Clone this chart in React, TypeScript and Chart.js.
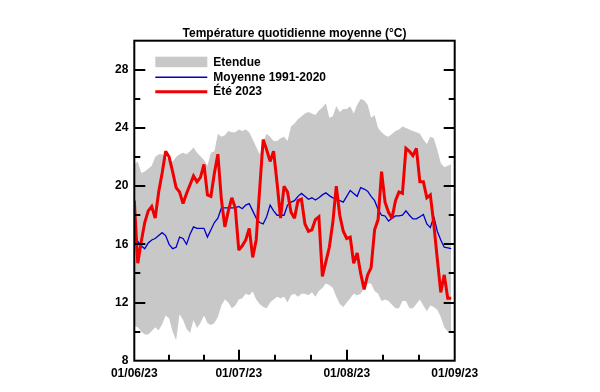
import React, { useEffect, useRef } from "react";
import { Chart, registerables } from "chart.js";

Chart.register(...registerables);

// Day offsets from 01/06/23 (index = day)
const etendueMax = [
  21.5, 21.7, 20.9, 21.0, 21.2, 21.4, 22.0, 22.2, 22.2, 22.0,
  21.8, 21.7, 22.0, 22.2, 22.3, 22.2, 22.4, 22.65, 22.3, 22.05,
  21.8, 21.4, 22.3, 22.4, 23.6, 23.4, 23.5, 23.8, 23.7, 23.7,
  23.9, 23.8, 23.9, 23.7, 23.2, 22.7, 22.2, 23.0, 23.6, 23.4,
  23.1, 23.1, 23.3, 23.4, 23.1, 24.1, 24.3, 24.6, 24.8, 25.0,
  25.1, 25.0, 24.9, 25.2, 25.4, 25.7, 24.7, 24.8, 25.5, 25.1,
  25.3, 25.3, 25.5, 25.0, 25.6, 26.0, 25.9, 25.6, 24.7, 24.9,
  24.0, 23.7, 23.5, 23.4, 23.6, 23.8, 23.9, 24.1, 24.0, 23.9,
  23.8, 23.7, 23.6, 23.2, 22.9, 23.4, 23.3, 22.5, 21.6, 21.3,
  21.4, 21.5,
];
const etendueMin = [
  10.4, 10.3, 10.0, 9.8, 9.8, 10.05, 10.3, 10.1, 10.5, 11.1,
  10.9, 10.0, 9.4, 11.2, 10.8, 10.2, 9.9, 10.8, 10.25, 10.6,
  11.1, 10.6, 10.45, 10.6, 11.0, 11.8, 12.2, 12.0, 11.6, 11.8,
  12.2, 12.3, 12.6, 12.5, 12.75, 12.2, 11.9, 11.7, 11.6, 12.0,
  12.2, 12.4, 12.3, 12.4, 12.0, 12.5, 12.6, 12.4, 12.6, 12.6,
  12.5, 12.7, 12.4, 12.8, 13.0, 13.3, 13.2, 13.0, 12.4, 11.9,
  11.7, 12.0, 12.3, 12.6, 12.5, 12.6, 13.0, 13.3, 13.3, 12.8,
  12.6, 12.1, 12.2, 12.1, 11.85, 11.6, 11.6, 12.1, 12.1, 11.6,
  11.6, 11.9, 12.2, 11.8, 11.4, 11.8, 11.7, 11.5, 11.0, 10.3,
  10.0, 9.9,
];
const moyenne = [
  16.7, 16.2, 15.9, 15.7, 16.1, 16.3, 16.4, 16.6, 16.8, 16.6,
  16.0, 15.7, 15.8, 16.5, 16.4, 16.0, 16.7, 17.2, 17.1, 17.1,
  17.1, 16.5, 17.0, 17.5, 17.8, 18.5, 18.5, 18.5, 18.5, 18.5,
  18.6, 18.45, 18.7, 18.8, 18.3, 17.8, 17.5, 17.4, 17.9, 18.7,
  18.3, 18.0, 18.0, 18.0, 18.7, 18.9, 19.0, 19.3, 19.5, 19.3,
  19.1, 19.2, 19.05, 19.2, 19.4, 19.55, 19.35, 19.2, 19.15, 19.0,
  18.9, 19.3, 19.7, 19.5, 19.3, 19.9, 19.8, 19.65, 19.3, 19.0,
  18.4, 18.0, 17.95, 17.6, 17.8, 17.95, 17.95, 18.0, 18.3, 18.0,
  17.75, 17.75, 17.9, 18.05, 17.4, 17.15, 17.9, 16.9, 16.3, 15.8,
  15.75, 15.7,
];
const ete2023 = [
  19.0, 14.7, 16.2, 17.5, 18.3, 18.6, 17.8, 19.6, 20.9, 22.4,
  22.0, 21.0, 19.9, 19.6, 18.8, 19.5, 20.1, 20.7, 20.3, 20.6,
  21.5, 19.4, 19.3, 20.9, 22.2, 19.1, 17.2, 18.3, 19.2, 18.5,
  15.6, 15.9, 16.3, 17.1, 15.1, 16.3, 19.8, 23.2, 22.5, 21.7,
  22.4, 20.2, 17.8, 20.0, 19.6, 18.2, 17.8, 19.0, 19.1, 17.4,
  16.9, 17.0, 17.7, 17.9, 13.8, 14.8, 15.8, 17.5, 20.0, 18.0,
  16.9, 16.4, 16.5, 14.7, 15.4, 14.0, 12.9, 13.9, 14.4, 17.0,
  17.7, 21.0, 18.9, 18.2, 17.8, 19.0, 19.6, 19.5, 22.6, 22.4,
  22.1, 22.6, 20.3, 20.3, 19.2, 19.4, 17.4, 15.0, 12.7, 13.9,
  12.3, 12.3,
];

const xTickDays = [0, 30, 61, 92];
const xTickLabels = ["01/06/23", "01/07/23", "01/08/23", "01/09/23"];
const yMin = 8;
const yMax = 30;
const yMajorStep = 4;
const yMinorStep = 2;

const seriesNames = ["Etendue", "Moyenne 1991-2020", "Été 2023"];
const titleText = "Température quotidienne moyenne (°C)";

const FONT = "'Liberation Sans', Arial, sans-serif";
const GRAY = "rgb(200,200,200)";
const BLUE = "#0000cc";
const RED = "#f00000";

const toXY = (arr: number[]) => arr.map((v, i) => ({ x: i, y: v }));

export default function App() {
  const ref = useRef<HTMLCanvasElement | null>(null);

  useEffect(() => {
    if (!ref.current) return;

    const xTicks: number[] = [];
    for (let i = 0; i < xTickDays.length - 1; i++) {
      const a = xTickDays[i];
      const b = xTickDays[i + 1];
      xTicks.push(a, a + (b - a) / 3, a + (2 * (b - a)) / 3);
    }
    xTicks.push(xTickDays[xTickDays.length - 1]);
    const yTicks: number[] = [];
    for (let v = yMin; v <= yMax; v += yMinorStep) yTicks.push(v);

    const framePlugin = {
      id: "framePlugin",
      beforeDatasetsDraw(chart: any) {
        chart.ctx.miterLimit = 2.5;
      },
      afterDatasetsDraw(chart: any) {
        const { ctx, chartArea } = chart;
        const { left, right, top, bottom } = chartArea;
        const xs = chart.scales.x;
        const ys = chart.scales.y;
        ctx.save();
        ctx.miterLimit = 10;
        ctx.strokeStyle = "#000";
        ctx.lineWidth = 2;
        ctx.beginPath();
        yTicks.forEach((v) => {
          if (v === yMin || v === yMax) return;
          const y = Math.round(ys.getPixelForValue(v));
          const len = v % yMajorStep === 0 ? 11 : 6;
          ctx.moveTo(left, y);
          ctx.lineTo(left + len, y);
          ctx.moveTo(right, y);
          ctx.lineTo(right - len, y);
        });
        xTicks.forEach((v) => {
          if (v === xTickDays[0] || v === xTickDays[xTickDays.length - 1]) return;
          const x = Math.round(xs.getPixelForValue(v));
          const len = xTickDays.includes(v) ? 11 : 6;
          ctx.moveTo(x, bottom);
          ctx.lineTo(x, bottom - len);
        });
        ctx.stroke();
        ctx.strokeRect(left, top, right - left, bottom - top);

        // legend
        const lx = left + 21;
        const lw = 52;
        const tx = left + 79;
        ctx.fillStyle = GRAY;
        ctx.fillRect(lx, top + 16, lw, 10.5);
        ctx.lineWidth = 1.5;
        ctx.strokeStyle = BLUE;
        ctx.beginPath();
        ctx.moveTo(lx, top + 36.6);
        ctx.lineTo(lx + lw, top + 36.6);
        ctx.stroke();
        ctx.lineWidth = 3;
        ctx.strokeStyle = RED;
        ctx.beginPath();
        ctx.moveTo(lx, top + 51);
        ctx.lineTo(lx + lw, top + 51);
        ctx.stroke();
        ctx.fillStyle = "#000";
        ctx.font = `bold 12px ${FONT}`;
        ctx.textBaseline = "middle";
        ctx.textAlign = "left";
        ctx.fillText(seriesNames[0], tx, top + 21.5);
        ctx.fillText(seriesNames[1], tx, top + 36.8);
        ctx.fillText(seriesNames[2], tx, top + 51);
        ctx.restore();
      },
    };

    const chart = new Chart(ref.current, {
      type: "line",
      data: {
        datasets: [
          {
            label: seriesNames[2],
            data: toXY(ete2023),
            borderColor: RED,
            borderWidth: 3,
            pointRadius: 0,
            tension: 0,
            fill: false,
            order: 0,
          },
          {
            label: seriesNames[1],
            data: toXY(moyenne),
            borderColor: BLUE,
            borderWidth: 1.3,
            pointRadius: 0,
            tension: 0,
            fill: false,
            order: 1,
          },
          {
            label: seriesNames[0],
            data: toXY(etendueMax),
            borderColor: GRAY,
            borderWidth: 0,
            backgroundColor: GRAY,
            pointRadius: 0,
            tension: 0,
            fill: "+1",
            order: 2,
          },
          {
            label: seriesNames[0] + " min",
            data: toXY(etendueMin),
            borderColor: GRAY,
            borderWidth: 0,
            pointRadius: 0,
            tension: 0,
            fill: false,
            order: 3,
          },
        ],
      },
      options: {
        responsive: false,
        animation: false,
        devicePixelRatio: 1,
        layout: { padding: { left: 0, right: 145.3, top: 0.3, bottom: 0 } },
        plugins: {
          legend: { display: false },
          tooltip: { enabled: false },
          title: {
            display: true,
            text: titleText,
            fullSize: false,
            color: "#000",
            font: { family: FONT, size: 12, weight: "bold", lineHeight: 1.2 },
            padding: { top: 26, bottom: 0 },
          },
        },
        scales: {
          x: {
            type: "linear",
            min: xTickDays[0],
            max: xTickDays[xTickDays.length - 1],
            afterBuildTicks: (s: any) => {
              s.ticks = xTicks.map((v) => ({ value: v }));
            },
            afterFit: (s: any) => {
              s.height = 31.3;
            },
            grid: { display: false, drawTicks: false },
            border: { display: false },
            ticks: {
              autoSkip: false,
              maxRotation: 0,
              minRotation: 0,
              padding: 6,
              color: "#000",
              font: { family: FONT, size: 12, weight: "bold" },
              callback: (v: any) => {
                const i = xTickDays.indexOf(Number(v));
                return i >= 0 ? xTickLabels[i] : "";
              },
            },
          },
          y: {
            type: "linear",
            min: yMin,
            max: yMax,
            afterBuildTicks: (s: any) => {
              s.ticks = yTicks.map((v) => ({ value: v }));
            },
            afterFit: (s: any) => {
              s.width = 134.3;
            },
            grid: { display: false, drawTicks: false },
            border: { display: false },
            ticks: {
              autoSkip: false,
              padding: 6,
              color: "#000",
              font: { family: FONT, size: 12, weight: "bold" },
              callback: (v: any) => {
                const n = Number(v);
                return n % yMajorStep === 0 && n < yMax ? String(n) : "";
              },
            },
          },
        },
      },
      plugins: [framePlugin],
    } as any);

    return () => chart.destroy();
  }, []);

  return (
    <div style={{ position: "absolute", left: 0, top: 0, width: 600, height: 392, background: "#fff" }}>
      <canvas ref={ref} width={600} height={392} style={{ display: "block", width: 600, height: 392 }} />
    </div>
  );
}
